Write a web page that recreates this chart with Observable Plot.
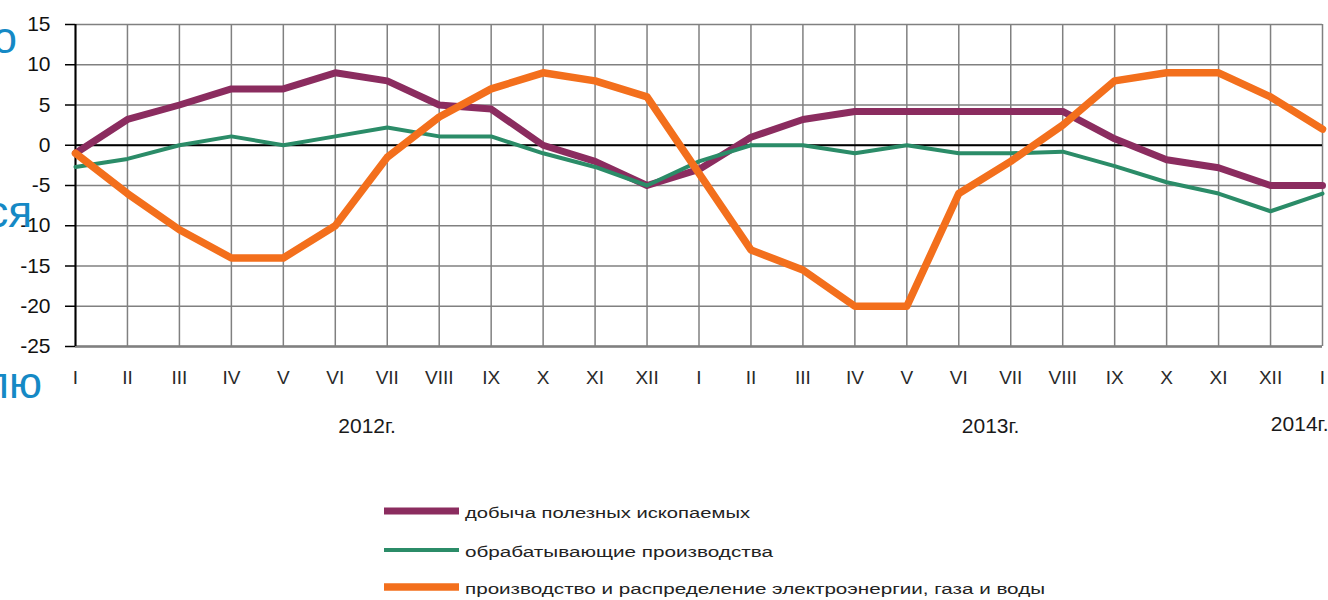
<!DOCTYPE html>
<html><head><meta charset="utf-8">
<script src="https://cdn.jsdelivr.net/npm/d3@7"></script>
<script src="https://cdn.jsdelivr.net/npm/@observablehq/plot@0.6"></script>
<style>
body{margin:0;background:#fff;font-family:"Liberation Sans",Arial,sans-serif;}
#wrap{position:relative;width:1328px;height:600px;overflow:hidden;background:#fff;}
#chart{position:absolute;left:0;top:0;}
.overlay{position:absolute;left:0;top:0;pointer-events:none;}
</style></head><body><div id="wrap"><div id="chart"></div></div>
<script>
const months = ["I","II","III","IV","V","VI","VII","VIII","IX","X","XI","XII",
                "I","II","III","IV","V","VI","VII","VIII","IX","X","XI","XII","I"];
const mining        = [-1, 3.2, 5, 7, 7, 9, 8, 5, 4.5, 0, -2, -5, -3, 1, 3.2, 4.2, 4.2, 4.2, 4.2, 4.2, 0.8, -1.8, -2.8, -5, -5];
const manufacturing = [-2.7, -1.7, 0, 1.1, 0, 1.1, 2.2, 1.1, 1.1, -1, -2.7, -5, -2, 0, 0, -1, 0, -1, -1, -0.8, -2.6, -4.6, -6, -8.2, -6];
const energy        = [-1, -6, -10.5, -14, -14, -10, -1.5, 3.5, 7, 9, 8, 6, -3.5, -13, -15.5, -20, -20, -6, -2, 2.5, 8, 9, 9, 6, 2];
const seriesNames = ["добыча полезных ископаемых", "обрабатывающие производства", "производство и распределение электроэнергии, газа и воды"];
const seriesColors = ["#8b2c5f", "#2b8c68", "#f36f1c"];
const seriesWidths = [7, 4, 7.5];
const years = ["2012г.", "2013г.", "2014г."];
const yearMonth = [5, 17, 24];
const yTicks = [-25, -20, -15, -10, -5, 0, 5, 10, 15];
const sideText = ["о", "ся", "лю"];

const idx = months.map((m, i) => i);
const allSeries = [mining, manufacturing, energy];
const rows = allSeries.map((vals, s) => vals.map((v, i) => ({i, v, s})));
const yearRows = years.map((label, k) => ({label, i: yearMonth[k], y: -25, last: k === years.length - 1}));

const plot = Plot.plot({
  width: 1328, height: 450,
  marginLeft: 75, marginRight: 6, marginTop: 24, marginBottom: 104,
  style: {fontFamily: "Liberation Sans, Arial, sans-serif", background: "transparent", color: "black"},
  x: {type: "linear", domain: [0, months.length - 1]},
  y: {domain: [-25, 15]},
  marks: [
    Plot.gridX(idx, {stroke: "#808080", strokeOpacity: 1, strokeWidth: 1.5}),
    Plot.gridY(yTicks, {stroke: "#808080", strokeOpacity: 1, strokeWidth: 1.5}),
    Plot.ruleY([-25], {stroke: "#808080", strokeWidth: 2.5}),
    Plot.ruleY([0], {stroke: "black", strokeWidth: 2}),
    Plot.ruleX([0], {stroke: "black", strokeWidth: 2}),
    Plot.axisY(yTicks, {tickSize: 10, tickPadding: 15, fontSize: 21, tickFormat: d => String(d), label: null, stroke: "black", strokeWidth: 1.5, fill: "#111"}),
    Plot.axisX(idx, {tickSize: 0, tickPadding: 24, fontSize: 19, tickFormat: i => months[i], label: null, fill: "#2a2a2a", letterSpacing: "1px"}),
    ...rows.map((r, s) => Plot.line(r, {x: "i", y: "v", stroke: seriesColors[s], strokeWidth: seriesWidths[s], strokeLinejoin: "round", strokeLinecap: "round"})),
    Plot.text(yearRows.filter(d => !d.last), {x: "i", y: "y", text: "label", dy: 80, dx: 3,
      textAnchor: "start", fontSize: 21, letterSpacing: "2px", fill: "#1a1a1a", clip: false}),
    Plot.text(yearRows.filter(d => d.last), {x: "i", y: "y", text: "label", dy: 78, dx: 6,
      textAnchor: "end", fontSize: 21, letterSpacing: "2px", fill: "#1a1a1a", clip: false})
  ]
});
document.getElementById("chart").appendChild(plot);

// Legend below chart
const ns = "http://www.w3.org/2000/svg";
const leg = document.createElementNS(ns, "svg");
leg.setAttribute("class", "overlay");
leg.setAttribute("width", 1328); leg.setAttribute("height", 600);
const legY = [511, 550, 587];
const legW = [285, 308, 580];
seriesNames.forEach((name, s) => {
  const ln = document.createElementNS(ns, "line");
  ln.setAttribute("x1", 384); ln.setAttribute("x2", 459);
  ln.setAttribute("y1", legY[s]); ln.setAttribute("y2", legY[s]);
  ln.setAttribute("stroke", seriesColors[s]); ln.setAttribute("stroke-width", seriesWidths[s]);
  leg.appendChild(ln);
  const t = document.createElementNS(ns, "text");
  t.setAttribute("x", 465); t.setAttribute("y", legY[s] + 3);
  t.setAttribute("dominant-baseline", "middle");
  t.setAttribute("font-size", 14);
  t.setAttribute("font-family", "Liberation Sans, Arial, sans-serif");
  t.setAttribute("fill", "#222");
  t.setAttribute("textLength", legW[s]);
  t.setAttribute("lengthAdjust", "spacingAndGlyphs");
  t.textContent = name;
  leg.appendChild(t);
});
// cut-off slide text at left edge
const sideRight = [17, 32, 42];
const sideBase = [53, 227, 398];
sideText.forEach((txt, k) => {
  const t = document.createElementNS(ns, "text");
  t.setAttribute("x", sideRight[k]); t.setAttribute("y", sideBase[k]);
  t.setAttribute("text-anchor", "end");
  t.setAttribute("font-size", 44);
  t.setAttribute("font-family", "Liberation Sans, Arial, sans-serif");
  t.setAttribute("fill", "#1589c5");
  t.textContent = txt;
  leg.appendChild(t);
});
document.getElementById("wrap").appendChild(leg);
</script>
</body></html>
